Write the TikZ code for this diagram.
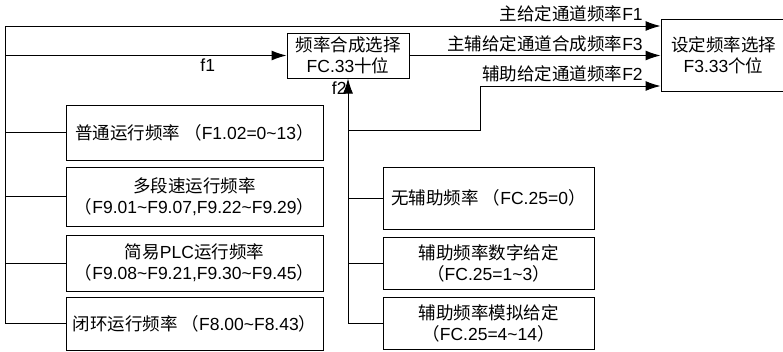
\documentclass[tikz,border=0pt]{standalone}
\usepackage{fontspec}
\setmainfont{Liberation Sans}
\newfontfamily\zhfont{Noto Sans CJK SC}
\newcommand{\zh}[1]{{\zhfont #1}}
\usetikzlibrary{arrows.meta}
\begin{document}
\begin{tikzpicture}[x=1pt, y=-1pt, >={Latex[length=15pt,width=10pt]}, line width=1pt,
		box/.style={draw, align=center, inner sep=0pt},
		every node/.style={font=\fontsize{17.5}{21}\selectfont}]
			\useasboundingbox (0,0) rectangle (783,351);
			\node[box, minimum width=122, minimum height=45] (sel) at (348,55.5) {\zh{频率合成选择}\\FC.33\zh{十位}};
			\node[box, minimum width=125, minimum height=72] (set) at (723.5,55) {\zh{设定频率选择}\\F3.33\zh{个位}};
			\node[box, minimum width=257, minimum height=55] (run1) at (194.5,132.5) {\zh{普通运行频率 （}F1.02=0\textasciitilde13\zh{）}};
			\node[box, minimum width=257, minimum height=59] (run2) at (194.5,196.5) {\zh{多段速运行频率}\\\zh{（}F9.01\textasciitilde F9.07,F9.22\textasciitilde F9.29\zh{）}};
			\node[box, minimum width=257, minimum height=56] (run3) at (194.5,263) {\zh{简易}PLC\zh{运行频率}\\\zh{（}F9.08\textasciitilde F9.21,F9.30\textasciitilde F9.45\zh{）}};
			\node[box, minimum width=257, minimum height=53] (run4) at (194.5,323.5) {\zh{闭环运行频率 （}F8.00\textasciitilde F8.43\zh{）}};
			\node[box, minimum width=211, minimum height=62] (aux1) at (488.5,198) {\zh{无辅助频率 （}FC.25=0\zh{）}};
			\node[box, minimum width=211, minimum height=52] (aux2) at (488.5,263) {\zh{辅助频率数字给定}\\\zh{（}FC.25=1\textasciitilde3\zh{）}};
			\node[box, minimum width=211, minimum height=52] (aux3) at (488.5,323) {\zh{辅助频率模拟给定}\\\zh{（}FC.25=4\textasciitilde14\zh{）}};
			\coordinate (ltop) at (5,26);
			\coordinate (rbot) at (348,323);
			\coordinate (turn) at (480,130);
			\draw (run4.west) -| (ltop);
			\foreach \n in {run1, run2, run3} {
					\draw (ltop |- \n.west) -- (\n.west);
				}
			\draw[->] (ltop) -- (ltop -| set.west) node[pos=1, above left, xshift=-14pt] (lblF1) {\zh{主给定通道频率}F1};
			\draw[->] (ltop |- sel.west) -- (sel.west) node[pos=0.72, below] (lblf1) {f1};
			\draw[->] (rbot) -- (sel.south) node[pos=1, anchor=north east, inner sep=1pt, yshift=-2pt] (lblf2) {f2};
			\foreach \n in {aux1, aux2, aux3} {
					\draw (rbot |- \n.west) -- (\n.west);
				}
			\draw[->] (sel.east) -- (sel.east -| set.west) node[pos=1, above left, xshift=-14pt] (lblF3) {\zh{主辅给定通道合成频率}F3};
			\draw[->] (rbot |- turn) -- (turn) |- ([yshift=-31pt]set.west) node[pos=1, above left, xshift=-14pt] (lblF2) {\zh{辅助给定通道频率}F2};
		\end{tikzpicture}
\end{document}
